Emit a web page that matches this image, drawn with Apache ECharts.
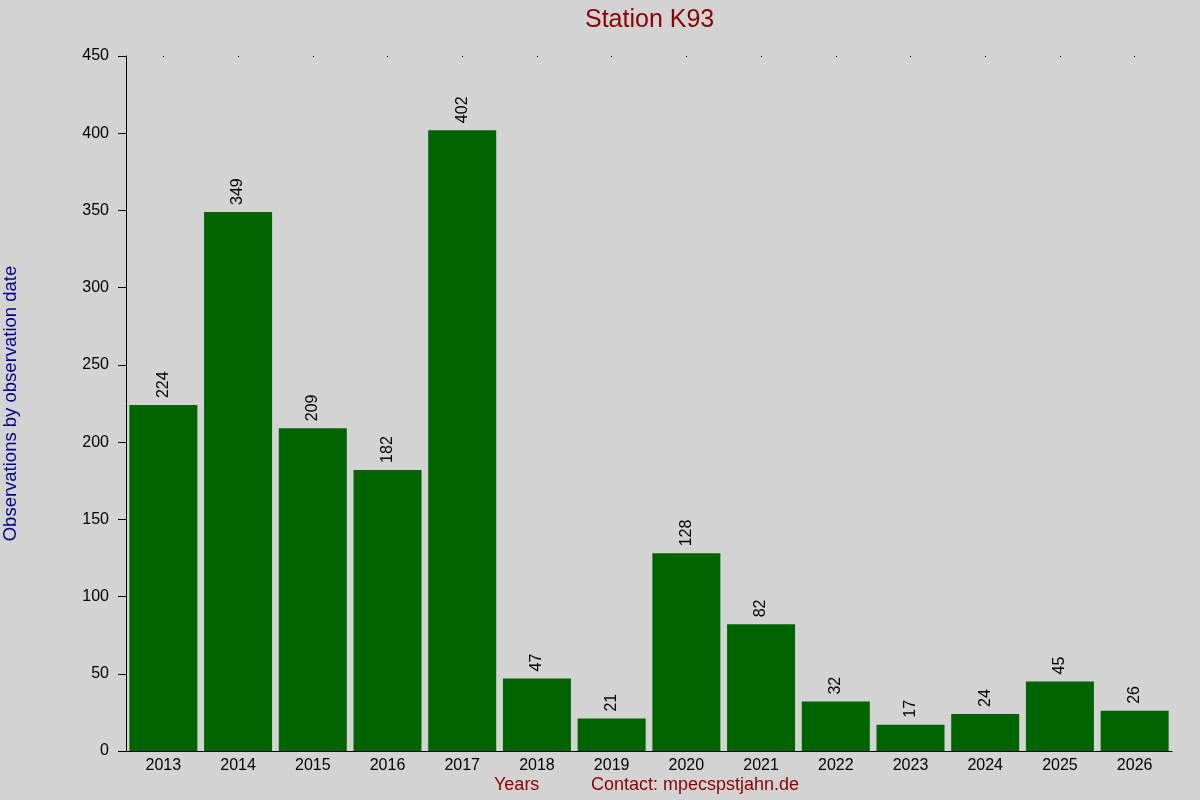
<!DOCTYPE html>
<html><head><meta charset="utf-8">
<script src="https://cdn.jsdelivr.net/npm/echarts@6/dist/echarts.min.js"></script>
<style>html,body{margin:0;padding:0;background:#d3d3d3}#c{width:1200px;height:800px}</style>
</head><body><div id="c"></div>
<script>
const years = ['2013','2014','2015','2016','2017','2018','2019','2020','2021','2022','2023','2024','2025','2026'];
const observations = [224,349,209,182,402,47,21,128,82,32,17,24,45,26];
const yTicks = {min:0, max:450, interval:50};
const F = 'Liberation Sans, Arial, sans-serif';
const chart = echarts.init(document.getElementById('c'));
chart.setOption({
  backgroundColor:'#d3d3d3',
  animation:false,
  title:{text:'Station K93', left:580, top:3, textStyle:{color:'#8b0000', fontSize:25, fontWeight:'normal', fontFamily:F}},
  grid:{left:126, right:28, top:56, bottom:49, containLabel:false, outerBoundsMode:'none'},
  xAxis:[{
    type:'category', data:years,
    axisLine:{lineStyle:{color:'#000', width:1}},
    axisTick:{show:false},
    axisLabel:{color:'#000', fontSize:16, fontFamily:F, margin:7}
  },{
    type:'category', data:years, position:'top',
    axisLine:{show:false},
    axisTick:{show:true, alignWithLabel:true, length:1, inside:true, lineStyle:{color:'#000'}},
    axisLabel:{show:false}
  }],
  yAxis:{
    type:'value', min:yTicks.min, max:yTicks.max, interval:yTicks.interval,
    name:'Observations by observation date', nameLocation:'middle', nameGap:106,
    nameTextStyle:{color:'#00008b', fontSize:18.5, fontFamily:F},
    axisLine:{show:true, lineStyle:{color:'#000'}},
    axisTick:{show:true, length:8, lineStyle:{color:'#000'}},
    axisLabel:{color:'#000', fontSize:16, fontFamily:F, margin:17},
    splitLine:{show:false}
  },
  series:[{
    type:'bar', data:observations, barCategoryGap:'9%',
    itemStyle:{color:'#006400'},
    label:{show:true, position:'top', rotate:90, align:'left', verticalAlign:'middle', distance:7, color:'#000', fontSize:16, fontFamily:F}
  }],
  graphic:[
    {type:'text', left:494, top:776, style:{text:'Years', fill:'#8b0000', fontSize:18, fontFamily:F}},
    {type:'text', left:591, top:776, style:{text:'Contact: mpecspstjahn.de', fill:'#8b0000', fontSize:18, fontFamily:F}}
  ]
});
</script></body></html>
